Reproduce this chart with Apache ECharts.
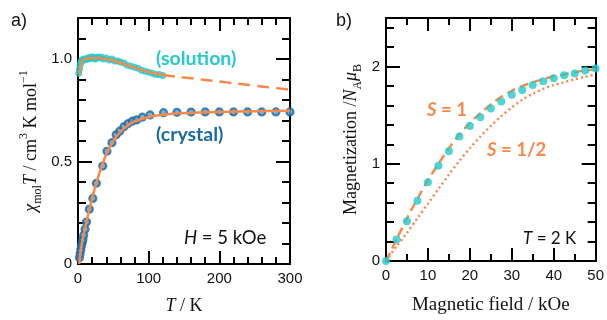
<!DOCTYPE html>
<html>
<head>
<meta charset="utf-8">
<script src="https://cdn.jsdelivr.net/npm/echarts@6/dist/echarts.min.js"></script>
<style>
  html, body { margin: 0; padding: 0; background: #fff; }
  #chart { width: 607px; height: 320px; }
</style>
</head>
<body>
<div id="chart"></div>
<script>
// a) chi_mol T vs T
const crystalT = [2, 3, 4, 5, 6, 7, 8, 10, 12, 16, 21, 26, 35, 41, 48, 54, 59, 65, 71, 77, 83, 91, 102, 121, 140, 160, 180, 200, 220, 240, 260, 280, 300]
const crystalChiT = [0.03, 0.05, 0.07, 0.09, 0.105, 0.12, 0.14, 0.17, 0.205, 0.267, 0.32, 0.394, 0.478, 0.55, 0.592, 0.63, 0.648, 0.67, 0.685, 0.697, 0.703, 0.716, 0.727, 0.738, 0.74, 0.741, 0.742, 0.742, 0.742, 0.742, 0.742, 0.742, 0.742]
const crystalFitT = [1.5, 5, 10, 15, 20, 25, 30, 35, 40, 50, 60, 70, 80, 100, 120, 150, 200, 250, 300]
const crystalFitChiT = [0, 0.09, 0.175, 0.25, 0.32, 0.385, 0.44, 0.49, 0.535, 0.6, 0.645, 0.675, 0.695, 0.717, 0.728, 0.736, 0.742, 0.745, 0.747]

const solutionT = [1, 2, 3, 4, 5, 6, 8, 10, 12, 14, 16, 18, 20, 22, 24, 26, 28, 30, 33, 36, 40, 44, 48, 52, 56, 60, 65, 70, 75, 80, 85, 90, 95, 100, 105, 110, 115, 120]
const solutionChiT = [0.93, 0.95, 0.97, 0.985, 0.99, 0.995, 1.0, 0.995, 1.0, 1.005, 1.0, 1.01, 1.005, 1.01, 1.0, 1.005, 1.01, 1.005, 1.01, 1.0, 1.005, 0.995, 1.0, 0.99, 0.99, 0.985, 0.98, 0.97, 0.965, 0.96, 0.955, 0.945, 0.94, 0.935, 0.93, 0.925, 0.925, 0.92]
const solFitT = [2, 4, 6, 10, 20, 30, 40, 50, 60, 70, 80, 90, 100, 110, 120]
const solFitChiT = [0.925, 0.975, 0.99, 1.0, 1.005, 1.005, 1.0, 0.993, 0.982, 0.97, 0.958, 0.947, 0.937, 0.929, 0.922]
const solExtT = [120, 140, 160, 180, 200, 220, 240, 260, 280, 300]
const solExtChiT = [0.922, 0.914, 0.906, 0.898, 0.89, 0.882, 0.874, 0.866, 0.858, 0.85]

// b) magnetization vs field
const fieldKOe = [0, 2.5, 5, 7.5, 10, 12.5, 15, 17.5, 20, 22.5, 25, 27.5, 30, 32.5, 35, 37.5, 40, 42.5, 45, 47.5, 50]
const magnetization = [0, 0.22, 0.41, 0.62, 0.81, 0.98, 1.13, 1.28, 1.39, 1.48, 1.57, 1.64, 1.71, 1.76, 1.81, 1.85, 1.88, 1.91, 1.93, 1.96, 1.98]
const curveS1 = [0, 0.22, 0.44, 0.64, 0.83, 1.0, 1.16, 1.3, 1.42, 1.52, 1.61, 1.69, 1.75, 1.8, 1.84, 1.87, 1.9, 1.92, 1.94, 1.96, 1.97]
const curveSHalf = [0, 0.15, 0.29, 0.44, 0.59, 0.74, 0.89, 1.03, 1.16, 1.28, 1.39, 1.49, 1.58, 1.66, 1.72, 1.77, 1.81, 1.84, 1.87, 1.895, 1.92]

const orange = '#f7894a'
const cyan = '#26c9cc'
const blue = '#1b6aa3'

const zip = (xs, ys) => xs.map((x, i) => [x, ys[i]])
const near = (v, t) => Math.abs(v - t) < 1e-6

function xPair(grid, max, interval, minorSplit) {
  const base = {
    gridIndex: grid,
    type: 'value',
    min: 0,
    max: max,
    interval: interval,
    axisLine: { onZero: false, lineStyle: { color: '#000', width: 2 } },
    axisTick: { inside: true, length: 13, lineStyle: { color: '#000', width: 2 } },
    minorTick: { show: true, splitNumber: minorSplit, length: 7, lineStyle: { color: '#000', width: 2 } },
    splitLine: { show: false },
    minorSplitLine: { show: false }
  }
  return [
    Object.assign({}, base, {
      position: 'bottom',
      axisLabel: { color: '#111', fontSize: 15, fontFamily: 'Liberation Sans', margin: 7 }
    }),
    Object.assign({}, base, { position: 'top', axisLabel: { show: false } })
  ]
}

function yFour(grid, max, minorInterval, majorInterval, labelFn) {
  const base = {
    gridIndex: grid,
    type: 'value',
    min: 0,
    max: max,
    splitLine: { show: false },
    axisLine: { onZero: false, lineStyle: { color: '#000', width: 2 } }
  }
  const minor = { inside: true, length: 8, lineStyle: { color: '#000', width: 2 } }
  const major = { inside: true, length: 14, lineStyle: { color: '#000', width: 2 } }
  return [
    Object.assign({}, base, {
      position: 'left',
      interval: minorInterval,
      axisTick: minor,
      axisLabel: {
        color: '#111', fontSize: 15, fontFamily: 'Liberation Sans', margin: 6,
        showMaxLabel: false, formatter: labelFn
      }
    }),
    Object.assign({}, base, { position: 'left', interval: majorInterval, axisTick: major, axisLabel: { show: false } }),
    Object.assign({}, base, { position: 'right', interval: minorInterval, axisTick: minor, axisLabel: { show: false } }),
    Object.assign({}, base, { position: 'right', interval: majorInterval, axisTick: major, axisLabel: { show: false } })
  ]
}

const leftX = xPair(0, 300, 100, 5)
leftX[0].name = '{i|T} / K'
leftX[0].nameLocation = 'middle'
leftX[0].nameGap = 33
leftX[0].nameTextStyle = {
  color: '#111', fontSize: 18, fontFamily: 'Liberation Serif',
  rich: { i: { fontSize: 18, fontStyle: 'italic', fontFamily: 'Liberation Serif', color: '#111' } }
}

const rightX = xPair(1, 50, 10, 2)
rightX[0].name = 'Magnetic field / kOe'
rightX[0].nameLocation = 'middle'
rightX[0].nameGap = 35
rightX[0].nameTextStyle = { color: '#111', fontSize: 19, fontFamily: 'Liberation Serif' }

const leftY = yFour(0, 1.2, 0.1, 0.5, (v) => near(v, 0) ? '0' : near(v, 0.5) ? '0.5' : near(v, 1) ? '1.0' : '')
leftY[0].name = '{i|χ}{sub|mol}{i|T} / cm{sup|3} K mol{sup|−1}'
leftY[0].nameLocation = 'middle'
leftY[0].nameRotate = 90
leftY[0].nameGap = 34
leftY[0].nameTextStyle = {
  color: '#111', fontSize: 18, fontFamily: 'Liberation Serif', lineHeight: 26,
  rich: {
    i: { fontSize: 18, fontStyle: 'italic', fontFamily: 'Liberation Serif', color: '#111', lineHeight: 26 },
    sub: { fontSize: 12, fontFamily: 'Liberation Serif', color: '#111', verticalAlign: 'bottom' },
    sup: { fontSize: 12, fontFamily: 'Liberation Serif', color: '#111', verticalAlign: 'top' }
  }
}

const rightY = yFour(1, 2.5, 0.2, 1, (v) => near(v, 0) ? '0' : near(v, 1) ? '1' : near(v, 2) ? '2' : '')
rightY[0].name = 'Magnetization /{i|N}{sub|A}{i|μ}{sub|B}'
rightY[0].nameLocation = 'middle'
rightY[0].nameRotate = 90
rightY[0].nameGap = 22
rightY[0].nameTextStyle = {
  color: '#111', fontSize: 18, fontFamily: 'Liberation Serif', lineHeight: 26,
  rich: {
    i: { fontSize: 18, fontStyle: 'italic', fontFamily: 'Liberation Serif', color: '#111', lineHeight: 26 },
    sub: { fontSize: 12, fontFamily: 'Liberation Serif', color: '#111', verticalAlign: 'bottom' }
  }
}

const chart = echarts.init(document.getElementById('chart'), null, { renderer: 'canvas' })

const annoFont = 'Lato'

chart.setOption({
  animation: false,
  backgroundColor: '#fff',
  grid: [
    { left: 78, top: 18, width: 212, height: 253 },
    { left: 386, top: 18, width: 212, height: 254 }
  ],
  xAxis: leftX.concat(rightX),
  yAxis: leftY.concat(rightY),
  graphic: [
    { type: 'text', left: 11, top: 12, style: { text: 'a)', fontSize: 18, fontFamily: 'Liberation Sans', fill: '#111' } },
    { type: 'text', left: 336, top: 12, style: { text: 'b)', fontSize: 18, fontFamily: 'Liberation Sans', fill: '#111' } },
    { type: 'text', left: 156, top: 49, style: { text: '(solution)', fontSize: 19.5, fontWeight: 'bold', fontFamily: annoFont, fill: cyan } },
    { type: 'text', left: 156, top: 125, style: { text: '(crystal)', fontSize: 19.5, fontWeight: 'bold', fontFamily: annoFont, fill: blue } },
    {
      type: 'text', left: 184, top: 229,
      style: {
        text: '{i|H} = 5 kOe', fontSize: 18.5, fontFamily: annoFont, fill: '#111',
        rich: { i: { fontSize: 18.5, fontStyle: 'italic', fontFamily: annoFont, fill: '#111' } }
      }
    },
    {
      type: 'text', left: 427, top: 101,
      style: {
        text: '{i|S} = 1', fontSize: 18.5, fontWeight: 'bold', fontFamily: annoFont, fill: orange,
        rich: { i: { fontSize: 18.5, fontStyle: 'italic', fontWeight: 'bold', fontFamily: annoFont, fill: orange } }
      }
    },
    {
      type: 'text', left: 487, top: 141,
      style: {
        text: '{i|S} = 1/2', fontSize: 18.5, fontWeight: 'bold', fontFamily: annoFont, fill: orange,
        rich: { i: { fontSize: 18.5, fontStyle: 'italic', fontWeight: 'bold', fontFamily: annoFont, fill: orange } }
      }
    },
    {
      type: 'text', left: 523, top: 230,
      style: {
        text: '{i|T} = 2 K', fontSize: 17, fontFamily: annoFont, fill: '#111',
        rich: { i: { fontSize: 17, fontStyle: 'italic', fontFamily: annoFont, fill: '#111' } }
      }
    }
  ],
  series: [
    // solution data (cyan dots)
    {
      type: 'scatter', xAxisIndex: 0, yAxisIndex: 0,
      symbol: 'circle', symbolSize: 7,
      itemStyle: { color: cyan },
      data: zip(solutionT, solutionChiT), z: 2
    },
    // crystal data (blue rings)
    {
      type: 'scatter', xAxisIndex: 0, yAxisIndex: 0,
      symbol: 'circle', symbolSize: 7,
      itemStyle: { color: '#5d9cc8', borderColor: blue, borderWidth: 2.2 },
      data: zip(crystalT, crystalChiT), z: 2
    },
    // fits
    {
      type: 'line', xAxisIndex: 0, yAxisIndex: 0, smooth: 0.3, showSymbol: false,
      lineStyle: { color: orange, width: 2.5 },
      data: zip(crystalFitT, crystalFitChiT), z: 3
    },
    {
      type: 'line', xAxisIndex: 0, yAxisIndex: 0, smooth: 0.3, showSymbol: false,
      lineStyle: { color: orange, width: 2.5 },
      data: zip(solFitT, solFitChiT), z: 3
    },
    {
      type: 'line', xAxisIndex: 0, yAxisIndex: 0, smooth: 0.3, showSymbol: false,
      lineStyle: { color: orange, width: 2.5, type: [12, 7] },
      data: zip(solExtT, solExtChiT), z: 3
    },
    // b) curves
    {
      type: 'line', xAxisIndex: 2, yAxisIndex: 4, smooth: 0.3, showSymbol: false,
      lineStyle: { color: orange, width: 2.5, type: [9, 5] },
      data: zip(fieldKOe, curveS1), z: 1
    },
    {
      type: 'line', xAxisIndex: 2, yAxisIndex: 4, smooth: 0.3, showSymbol: false,
      lineStyle: { color: orange, width: 2.5, type: [2, 3] },
      data: zip(fieldKOe, curveSHalf), z: 1
    },
    {
      type: 'scatter', xAxisIndex: 2, yAxisIndex: 4,
      symbol: 'circle', symbolSize: 8,
      itemStyle: { color: cyan },
      data: zip(fieldKOe, magnetization), z: 2
    }
  ]
})
</script>
</body>
</html>
